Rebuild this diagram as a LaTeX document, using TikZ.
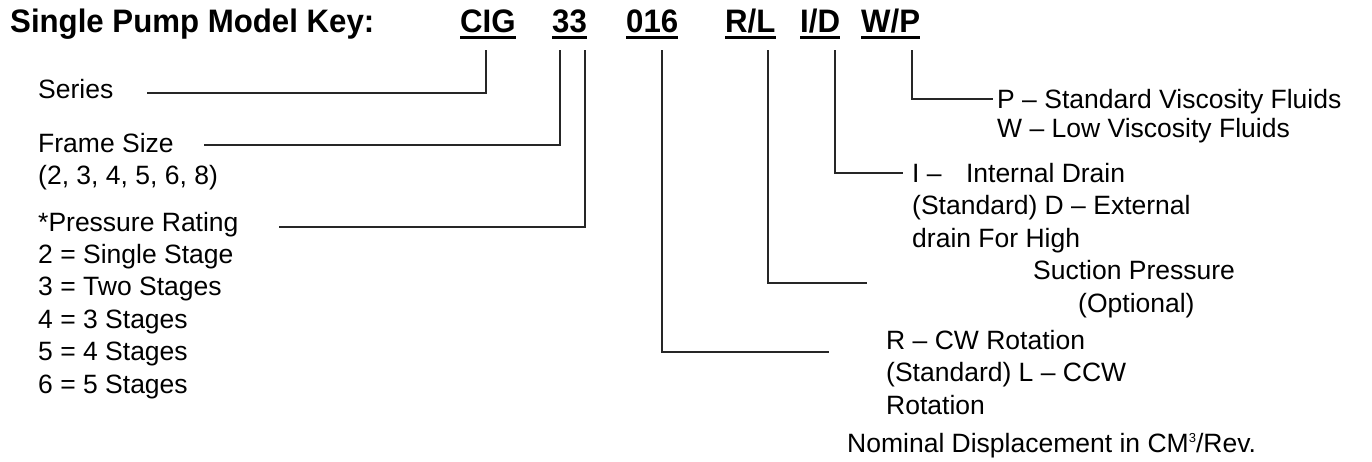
\documentclass[tikz,border=0pt]{standalone}
\usepackage{fontspec}
\setmainfont{Liberation Sans}
\newfontfamily\keyfont[FakeStretch=0.96]{Liberation Sans}
\usetikzlibrary{positioning}

\begin{document}
\begin{tikzpicture}[x=1pt,y=1pt,
	txt/.style={anchor=base west, inner sep=0pt, text height=19pt, text depth=6pt, font=\fontsize{26.5}{32}\selectfont},
	code/.style={anchor=base west, inner sep=0pt, font=\keyfont\fontsize{32.5}{36}\selectfont\bfseries},
	lead/.style={line width=1.3pt, draw=black!85},
	nextline/.style={below=7pt of #1.south west, anchor=north west}]
		\useasboundingbox (0,0) rectangle (1372,-461);

		\node[code								] (TITLE) 		at (10,-32) 	{Single Pump Model Key:};
		\node[code								] (CIG) 		at (460,-32) 	{CIG};
		\node[code								] (F_33) 		at (552,-32) 	{33};
		\node[code								] (DISP_016) 	at (626,-32) 	{016};
		\node[code								] (R_L) 		at (725,-32) 	{R/L};
		\node[code								] (I_D) 		at (800,-32) 	{I/D};
		\node[code								] (W_P) 		at (861,-32) 	{W/P};

		\foreach \c in {CIG,F_33,DISP_016,R_L,I_D,W_P}
			\draw[line width=3pt] ([yshift=-5.5pt]\c.base west) -- ([yshift=-5.5pt]\c.base east);

		\node[txt								] (SERIES) 		at (38,-98) 	{Series};
		\node[txt								] (FRAME) 		at (38,-152) 	{Frame Size};
		\node[txt, nextline=FRAME				] (FRAME_LIST) 					{(2, 3, 4, 5, 6, 8)};
		\node[txt								] (PRESS) 		at (38,-231) 	{*Pressure Rating};
		\node[txt, nextline=PRESS				] (STAGE_2) 					{2 = Single Stage};
		\node[txt, nextline=STAGE_2				] (STAGE_3) 					{3 = Two Stages};
		\node[txt, nextline=STAGE_3				] (STAGE_4) 					{4 = 3 Stages};
		\node[txt, nextline=STAGE_4				] (STAGE_5) 					{5 = 4 Stages};
		\node[txt, nextline=STAGE_5				] (STAGE_6) 					{6 = 5 Stages};

		\node[txt								] (VISC_P) 		at (997,-108.5) {P – Standard Viscosity Fluids};
		\node[txt, below=4pt of VISC_P.south west, anchor=north west] (VISC_W) 	{W – Low Viscosity Fluids};

		\node[txt								] (DRAIN_I) 	at (912,-182.5) {I –\hspace{17pt} Internal Drain};
		\node[txt, nextline=DRAIN_I				] (DRAIN_D) 					{(Standard) D – External};
		\node[txt, nextline=DRAIN_D				] (DRAIN_HIGH) 					{drain For High};
		\node[txt, nextline=DRAIN_HIGH, xshift=121pt] (SUCTION) 				{Suction Pressure};
		\node[txt, nextline=SUCTION, xshift=45pt] (OPTIONAL) 					{(Optional)};

		\node[txt								] (ROT_R) 		at (886,-349.5) {R – CW Rotation};
		\node[txt, nextline=ROT_R				] (ROT_L) 						{(Standard) L – CCW};
		\node[txt, nextline=ROT_L				] (ROT_END_TXT) 				{Rotation};

		\node[txt								] (NOMINAL) 	at (847,-452.5) {Nominal Displacement in CM\raisebox{10pt}{\fontsize{13}{13}\selectfont 3}/Rev.};

		\coordinate (SUCTION_END) 	at (867,-283);
		\coordinate (ROT_END) 		at (829,-352);

		\draw[lead]	([xshift=26pt,yshift=-18pt]CIG.base west)		|- ([xshift=33pt,yshift=5pt]SERIES.base east)
					([xshift=8pt,yshift=-18pt]F_33.base west)		|- ([xshift=30pt,yshift=7pt]FRAME.base east)
					([xshift=33pt,yshift=-18pt]F_33.base west)		|- ([xshift=40pt,yshift=4pt]PRESS.base east)
					([xshift=36pt,yshift=-18pt]DISP_016.base west)	|- (ROT_END)
					([xshift=43pt,yshift=-18pt]R_L.base west)		|- (SUCTION_END)
					([xshift=35pt,yshift=-18pt]I_D.base west)		|- ([xshift=-9pt,yshift=9.5pt]DRAIN_I.base west)
					([xshift=51pt,yshift=-18pt]W_P.base west)		|- ([xshift=-4pt,yshift=9.5pt]VISC_P.base west)
					;
	\end{tikzpicture}
\end{document}
